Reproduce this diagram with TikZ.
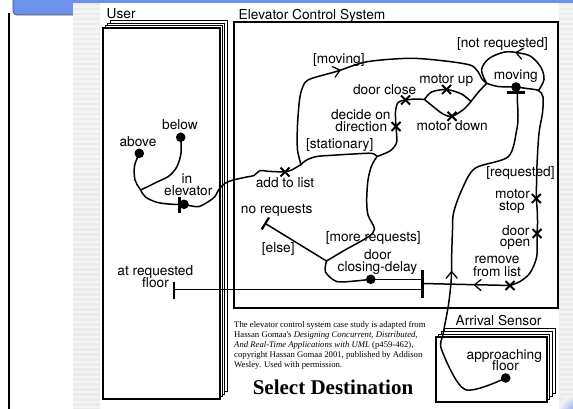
\documentclass[tikz,border=0pt]{standalone}
\usepackage{fontspec}
\usetikzlibrary{shapes.misc}
\newfontfamily\labfont{TeX Gyre Heros}
\newfontfamily\notefont{Liberation Serif}
\definecolor{slideblue}{RGB}{108,146,238}
\definecolor{stripeA}{RGB}{234,234,234}
\definecolor{stripeB}{RGB}{244,244,244}
\tikzset{
  lab/.style={font=\labfont\fontsize{13.7}{12}\selectfont, inner sep=0pt, anchor=base},
  note/.style={font=\notefont\fontsize{8.7}{10}\selectfont, inner sep=0pt, anchor=base west},
  wire/.style={line width=1.5pt, line join=round, line cap=round},
  dot/.style={circle, fill=black, inner sep=0pt, minimum size=9.6pt},
  xmark/.style={cross out, draw, line width=2pt, inner sep=0pt, minimum size=7pt},
  frame/.style={draw, fill=white, line width=1.2pt},
  barline/.style={line width=2.8pt},
  chev/.pic={\draw[line width=1.3pt, line cap=round, line join=round] (-6.5,5.5) -- (0,0) -- (-6.5,-5.5);},
}
\begin{document}
\begin{tikzpicture}[x=1pt,y=-1pt]
\useasboundingbox (0,0) rectangle (573,409);
\begin{scope}
\clip (0,0) rectangle (573,409);
% slide background, header bar and left rule
\fill[white] (0,0) rectangle (573,409);
\filldraw[fill=slideblue, draw=black!70, line width=0.8pt, rounded corners=4pt] (13,-12) rectangle (590,15);
\draw[line width=1.5pt] (9,13) -- (9,412);
% embedded figure
\fill[stripeB] (73,3) rectangle (573,409);
\foreach \y in {3,8,...,408} {
  \fill[stripeA] (73,\y) rectangle (100,\y+2.5);
  \fill[stripeA] (559,\y) rectangle (573,\y+2.5);
}
\fill[white] (100,3) rectangle (559,409);
\shade[inner color=slideblue, outer color=stripeB] (578,414) circle (20);
\end{scope}

% ---- swimlane frames ----
\foreach \d in {7.2,4.8,2.4,0} \draw[frame] (103+\d,28-\d) rectangle (220+\d,399-\d);
\draw[frame, line width=1.5pt] (234,22) rectangle (558,308);
\foreach \d in {8.4,5.6,2.8,0} \draw[frame] (436+\d,337-\d) rectangle (547+\d,402-\d);

\node[lab, anchor=base west] (t-user) at (106.5,19) {User};
\node[lab, anchor=base west] (t-ecs) at (238.5,20) {Elevator Control System};
\node[lab, anchor=base west] (t-arr) at (455.5,325) {Arrival Sensor};

% ---- states, actions and junctions ----
\node[dot] (above) at (139.3,153.3) {};
\node[dot] (below) at (180.7,137.3) {};
\node[dot] (ine) at (184,204.3) {};
\node[dot] (cdd) at (370.7,279.3) {};
\node[dot] (mvd) at (516,87) {};
\node[dot] (apd) at (505.7,378) {};

\node[xmark] (addx) at (285,172) {};
\node[xmark] (decx) at (396,126.5) {};
\node[xmark] (dcx) at (405.5,100) {};
\node[xmark] (mux) at (446.5,89.5) {};
\node[xmark] (mdx) at (452,116.3) {};
\node[xmark] (msx) at (536.3,198.5) {};
\node[xmark] (dox) at (537,233.5) {};
\node[xmark] (rlx) at (510,285.5) {};

\coordinate (J1) at (301,164.5);
\coordinate (J2) at (377,156.5);
\coordinate (Js) at (424.5,99.5);
\coordinate (Jmm) at (471,101.5);
\coordinate (Jm) at (486.7,83.3);
\coordinate (Je) at (326.5,261);
\coordinate (Lr) at (538.5,90.5);
\coordinate (mvbar) at (517.3,93.5);
\coordinate (bb-t) at (422.5,279.3);
\coordinate (bb-r) at (422.5,283.5);
\coordinate (bb-l) at (422.5,289.3);
\coordinate (arf) at (174,289.3);
\coordinate (nrb) at (265.3,223.5);

% bars
\draw[barline] (179.3,196.7) -- (179.3,213);
\draw[barline] (507,92.8) -- (525,92.8);
\draw[line width=3.3pt] (422.5,269.5) -- (422.5,298);
\draw[barline] (174,281.7) -- (174,299);
\draw[line width=2.2pt] (261.7,229.5) -- (269,217.5);

% ---- connectors ----
\draw[wire] plot[smooth,tension=0.55] coordinates {(above.center) (134.5,166) (135,180) (140,189) (145.5,197) (157,202.3) (171,204.2) (ine.center)};
\draw[wire] plot[smooth,tension=0.55] coordinates {(below.center) (181,153) (177,166.5) (169,176) (157,182) (147,187) (140.5,190)};
\draw[wire] plot[smooth,tension=0.5] coordinates {(ine.center) (198,206.7) (208.3,201.7) (215,196.5) (218.5,190) (225,183.3) (233.3,180) (246.7,177) (254,175.5) (260,170.7) (268,171.3) (278,171.8) (addx.center)};
\draw[wire] plot[smooth] coordinates {(addx.center) (291.7,170) (J1)};
\draw[wire] plot[smooth,tension=0.5] coordinates {(J1) (297.5,150) (297.3,130) (298.5,110) (300.5,94) (305,82.5) (313,78) (337,71.3) (366.7,61.8) (410,58.3) (445,61) (470,65) (477.5,71) (482,79) (Jm)};
\draw[wire] plot[smooth,tension=0.5] coordinates {(J1) (306.7,160) (316.7,156.5) (336.7,155) (353.3,154) (371.7,153.3) (J2)};
\draw[wire] plot[smooth,tension=0.5] coordinates {(J2) (390,151) (396.5,143) (396.5,133) (decx.center)};
\draw[wire] plot[smooth,tension=0.5] coordinates {(decx.center) (395.5,112) (398,102.5) (dcx.center)};
\draw[wire] plot[smooth,tension=0.5] coordinates {(dcx.center) (415,99) (Js)};
\draw[wire] plot[smooth,tension=0.5] coordinates {(Js) (431.5,92) (mux.center) (461.5,94) (Jmm)};
\draw[wire] plot[smooth,tension=0.5] coordinates {(Js) (433.3,106.7) (443,114) (mdx.center) (463.5,109.5) (Jmm)};
\draw[wire] plot[smooth,tension=0.5] coordinates {(Jmm) (478.5,92) (Jm)};
\draw[wire] plot[smooth,tension=0.5] coordinates {(Jm) (498,86.5) (mvd.center)};
\draw[wire] plot[smooth,tension=0.55] coordinates {(Lr) (544,79.5) (541,67.5) (531,56.5) (519,53) (505,52) (489,58.5) (481.5,70) (Jm)};
\draw[wire] plot[smooth,tension=0.5] coordinates {(mvd.center) (527,88.5) (Lr) (543,97) (542.5,113) (539,133) (537,165) (msx.center)};
\draw[wire] plot[smooth,tension=0.5] coordinates {(msx.center) (537.3,212) (537.5,224) (dox.center)};
\draw[wire] plot[smooth,tension=0.5] coordinates {(dox.center) (536.7,256.7) (530,273) (520,281.5) (rlx.center)};
\draw[wire] (rlx.center) -- (bb-r);
\draw[wire] (cdd.center) -- (bb-t);
\draw[wire] (bb-l) -- (arf);
\draw[wire] plot[smooth,tension=0.5] coordinates {(J2) (371.5,166) (368,180) (366.7,200) (368,215) (374.5,229) (368,237) (345,250) (Je)};
\draw[wire] plot[smooth,tension=0.5] coordinates {(Je) (325.5,272) (336.7,281.5) (355,281) (cdd.center)};
\draw[wire] (Je) -- (nrb);
\draw[wire] plot[smooth,tension=0.5] coordinates {(apd.center) (465,389.5) (441.7,350) (443.3,333) (448.3,306) (451.2,280) (451.7,255) (452.5,230) (453.5,213) (461.7,190) (475,168.3) (508.3,156.7) (516.7,130) (518,115) (517.3,100) (mvbar)};

% open arrowheads along the flows
\pic[rotate=15] at (340,70.2) {chev};
\pic[rotate=170] at (516,52.5) {chev};
\pic[rotate=90] at (451.7,271.7) {chev};
\pic[rotate=180] at (474.5,285) {chev};

% ---- labels ----
\node[lab] (l-below) at (180,129.5) {below};
\node[lab] (l-above) at (138,146.5) {above};
\node[lab] (l-in) at (187,183.3) {in};
\node[lab] (l-elev) at (188.3,195.7) {elevator};
\node[lab] (l-atreq) at (155.3,275) {at requested};
\node[lab] (l-floor1) at (155.5,287.5) {floor};
\node[lab] (l-add) at (285,187.3) {add to list};
\node[lab] (l-noreq) at (276.7,213.3) {no requests};
\node[lab] (l-else) at (278.3,252.7) {[else]};
\node[lab] (l-more) at (373.3,241) {[more requests]};
\node[lab] (l-door1) at (377.8,259.8) {door};
\node[lab] (l-cdelay) at (377.5,271.3) {closing-delay};
\node[lab] (l-stat) at (339.7,148.3) {[stationary]};
\node[lab] (l-moving1) at (338.8,63.3) {[moving]};
\node[lab] (l-dclose) at (384.7,95) {door close};
\node[lab] (l-decide) at (360.8,120) {decide on};
\node[lab] (l-dir) at (361.3,131.9) {direction};
\node[lab] (l-mup) at (446.3,83.3) {motor up};
\node[lab] (l-mdown) at (452.2,131) {motor down};
\node[lab] (l-notreq) at (502.5,47.7) {[not requested]};
\node[lab] (l-moving2) at (515.8,80) {moving};
\node[lab] (l-req) at (520.5,176.7) {[requested]};
\node[lab] (l-motor) at (512.5,198.3) {motor};
\node[lab] (l-stop) at (512,210.3) {stop};
\node[lab] (l-door2) at (515.8,235.5) {door};
\node[lab] (l-open) at (515,246) {open};
\node[lab] (l-remove) at (497,263.3) {remove};
\node[lab] (l-fromlist) at (497,276.7) {from list};
\node[lab] (l-appr) at (504.3,359) {approaching};
\node[lab] (l-floor2) at (505.5,370.5) {floor};

% ---- credit note and title ----
\node[note] (n1) at (234,327.5) {The elevator control system case study is adapted from};
\node[note] (n2) at (234,337.5) {Hassan Gomaa's \textit{Designing Concurrent, Distributed,}};
\node[note] (n3) at (234,347.5) {\textit{And Real-Time Applications with UML} (p459-462),};
\node[note] (n4) at (234,357.5) {copyright Hassan Gomaa 2001, published by Addison};
\node[note] (n5) at (234,367.5) {Wesley. Used with permission.};
\node[font=\notefont\bfseries\fontsize{21}{24}\selectfont, inner sep=0pt, anchor=base] (sel) at (333,394.3) {Select Destination};
\end{tikzpicture}
\end{document}
